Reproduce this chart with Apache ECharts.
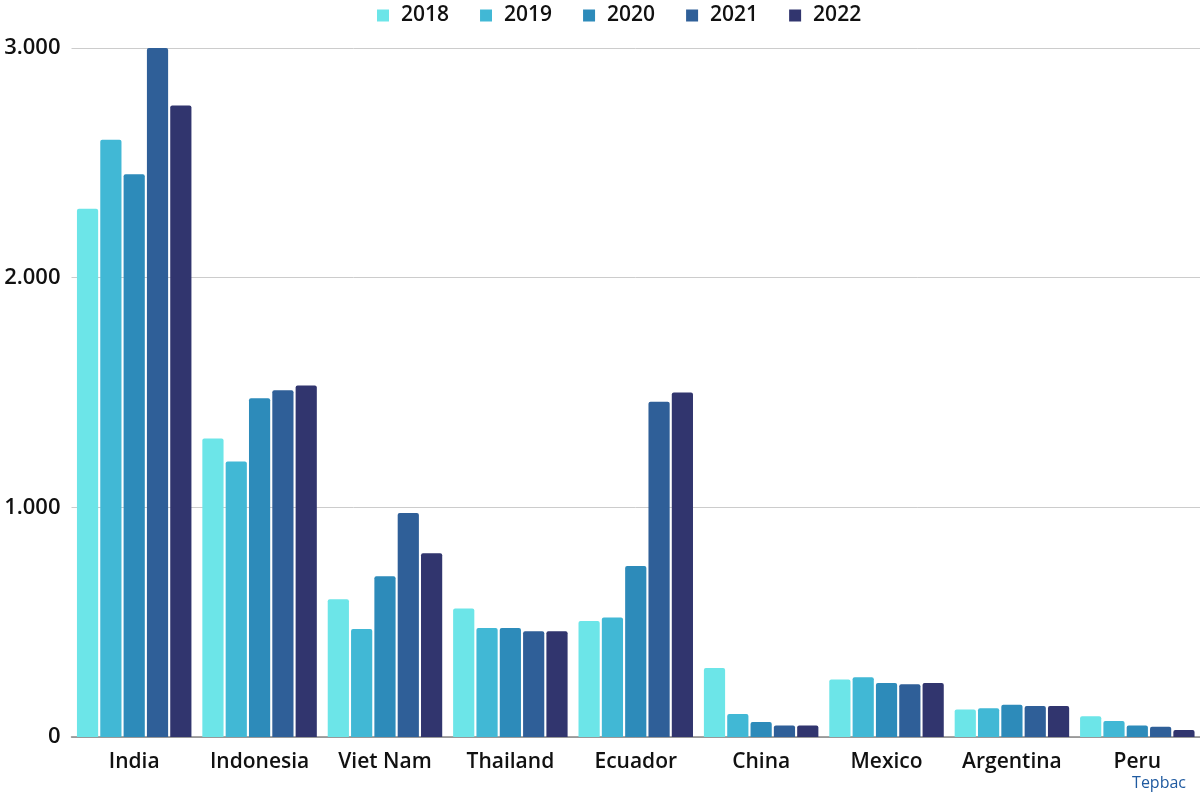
<!DOCTYPE html>
<html><head><meta charset="utf-8">
<script src="https://cdn.jsdelivr.net/npm/echarts@6/dist/echarts.min.js"></script>
<style>html,body{margin:0;padding:0;background:#fff}#c{width:1200px;height:800px}</style>
</head><body><div id="c"></div>
<script>
const categories = ["India","Indonesia","Viet Nam","Thailand","Ecuador","China","Mexico","Argentina","Peru"];
const years = ["2018","2019","2020","2021","2022"];
const v2018 = [2300,1300,600,560,505,300,250,120,90];
const v2019 = [2600,1200,470,475,520,100,260,125,70];
const v2020 = [2450,1475,700,475,745,65,235,140,50];
const v2021 = [3000,1510,975,460,1460,50,230,135,45];
const v2022 = [2750,1530,800,460,1500,50,235,135,30];
const colors = ["#6ce5e8","#41b8d5","#2d8bba","#2f5f98","#31356e"];
const yTicks = [0,1000,2000,3000];
const allVals = [v2018,v2019,v2020,v2021,v2022];
const FONT = "Open Sans";
const chart = echarts.init(document.getElementById('c'));
chart.setOption({
  animation:false,
  textStyle:{fontFamily:FONT},
  legend:{top:0,left:372,itemWidth:12,itemHeight:12,itemGap:31,icon:'rect',
    textStyle:{fontSize:21,fontWeight:600,color:'#111',fontFamily:FONT,padding:[0,0,0,7]}},
  grid:{left:71.5,right:-5.5,top:48,bottom:63,containLabel:false},
  xAxis:{type:'category',data:categories,
    axisLine:{lineStyle:{color:'#888',width:1.5}},axisTick:{show:false},
    axisLabel:{fontSize:21,fontWeight:600,color:'#111',margin:15,interval:0}},
  yAxis:{type:'value',min:0,max:3000,interval:1000,
    axisLine:{show:false},axisTick:{show:false},
    splitLine:{lineStyle:{color:'#cccccc',width:1}},
    axisLabel:{fontSize:22,fontWeight:600,color:'#111',margin:11,
      formatter:v=>yTicks.includes(v)?(v===0?'0':(v/1000)+'.000'):''}},
  graphic:[{type:'text',right:14,top:775,style:{text:'Tepbac',fill:'#1f5aa0',font:'16px '+FONT,letterSpacing:4}}],
  series: years.map((y,i)=>({name:y,type:'bar',data:allVals[i],barGap:'10%',barCategoryGap:'8.7%',
    itemStyle:{color:colors[i],borderRadius:[2,2,0,0]}}))
});
</script></body></html>
